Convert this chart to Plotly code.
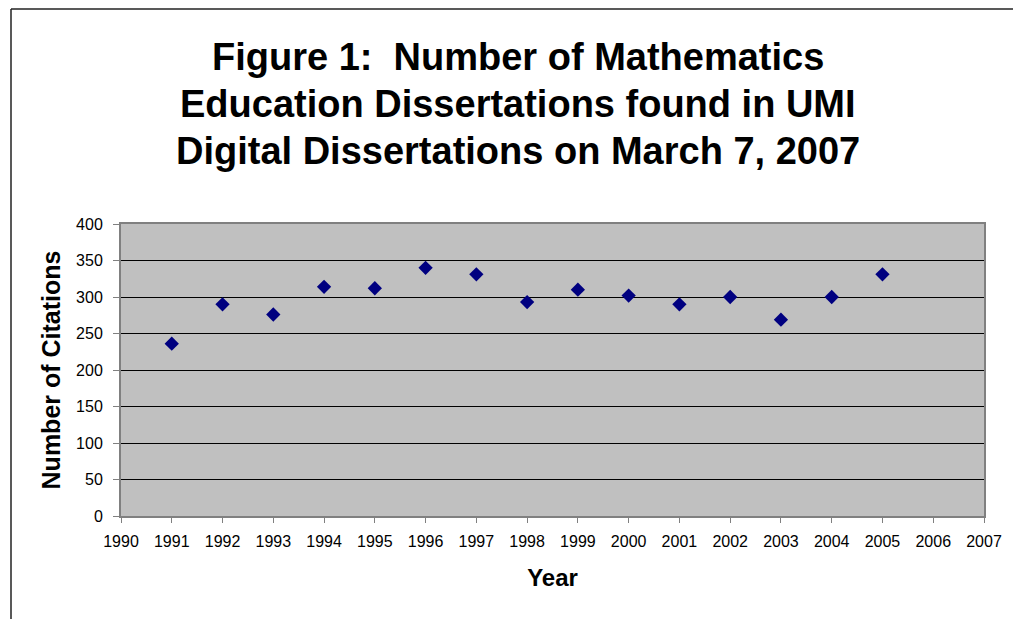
import plotly.graph_objects as go

years = [1991, 1992, 1993, 1994, 1995, 1996, 1997, 1998, 1999, 2000, 2001, 2002, 2003, 2004, 2005]
citations = [236, 290, 276, 314, 312, 340, 331, 293, 310, 302, 290, 300, 269, 300, 331]

title_lines = [
    "Figure 1:\u00a0 Number of Mathematics",
    "Education Dissertations found in UMI",
    "Digital Dissertations on March 7, 2007",
]
x_title = "Year"
y_title = "Number of Citations"
x_ticks = list(range(1990, 2008))
y_ticks = list(range(0, 401, 50))

W, H = 1013, 619
L, R, T, B = 121, 29, 224, 103
pw, ph = W - L - R, H - T - B

def px_x(x):
    return (x - L) / pw

def px_y(y):
    return (H - B - y) / ph

FONT = "Liberation Sans, Arial, sans-serif"

fig = go.Figure()
fig.add_trace(go.Scatter(
    x=years, y=citations, mode="markers",
    marker=dict(symbol="diamond", size=11, color="#000080", line=dict(width=0)),
    showlegend=False, hoverinfo="x+y",
))

annotations = []
for i, (line, cy) in enumerate(zip(title_lines, [57, 104, 151])):
    annotations.append(dict(
        text="<b>" + line + "</b>", xref="paper", yref="paper",
        x=px_x(518), y=px_y(cy), xanchor="center", yanchor="middle",
        showarrow=False, font=dict(family=FONT, size=38, color="#000000"),
    ))

fig.update_layout(
    width=W, height=H,
    margin=dict(l=L, r=R, t=T, b=B, pad=0),
    paper_bgcolor="#FFFFFF",
    plot_bgcolor="#C0C0C0",
    font=dict(family=FONT, color="#000000"),
    annotations=annotations,
    shapes=[
        dict(type="line", xref="paper", yref="paper",
             x0=px_x(11), x1=px_x(11), y0=px_y(9), y1=px_y(640),
             line=dict(color="#222222", width=1.5)),
        dict(type="line", xref="paper", yref="paper",
             x0=px_x(11), x1=px_x(1030), y0=px_y(9), y1=px_y(9),
             line=dict(color="#222222", width=1.5)),
    ],
    xaxis=dict(
        range=[1990, 2007], tickmode="array", tickvals=x_ticks,
        ticktext=[str(t) for t in x_ticks],
        ticks="outside", ticklen=5, tickcolor="#808080", tickwidth=1,
        showgrid=False, zeroline=False,
        showline=True, linecolor="#808080", linewidth=2, mirror=True,
        tickfont=dict(family=FONT, size=16, color="#000000"),
        ticklabelstandoff=5,
        title=dict(text="<b>" + x_title + "</b>", font=dict(family=FONT, size=24, color="#000000"), standoff=20),
        fixedrange=True,
    ),
    yaxis=dict(
        range=[0, 400], tickmode="array", tickvals=y_ticks,
        ticks="outside", ticklen=6, tickcolor="#808080", tickwidth=1,
        showgrid=True, gridcolor="#000000", gridwidth=1, zeroline=False,
        showline=True, linecolor="#808080", linewidth=2, mirror=True,
        tickfont=dict(family=FONT, size=16, color="#000000"),
        ticklabelstandoff=7,
        title=dict(text="<b>" + y_title + "</b>", font=dict(family=FONT, size=25, color="#000000"), standoff=8),
        fixedrange=True,
    ),
)

fig.write_html("out.html")
